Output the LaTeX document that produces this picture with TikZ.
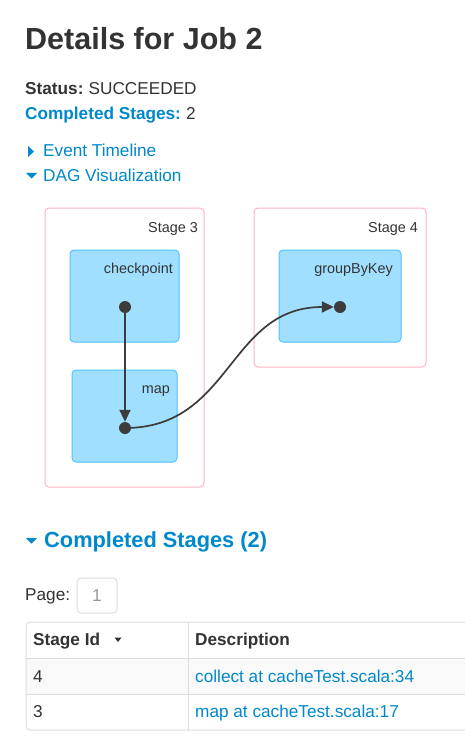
\documentclass[tikz,border=0pt]{standalone}
\usepackage{fontspec}
\setmainfont{Liberation Sans}
\usetikzlibrary{arrows.meta, positioning}
\definecolor{textgray}{HTML}{333333}
\definecolor{linkblue}{HTML}{0088CC}
\definecolor{stagepink}{HTML}{FFB3C2}
\definecolor{rddfill}{HTML}{A0DFFF}
\definecolor{rddline}{HTML}{4DC4FF}
\definecolor{dotgray}{HTML}{3C3C3C}
\definecolor{cellline}{HTML}{DDDDDD}
\definecolor{stripe}{HTML}{F9F9F9}
\newcommand{\bodyfont}{\fontsize{17.2}{20}\selectfont}
\newcommand{\dagfont}{\fontsize{14.4}{17}\selectfont}

\begin{document}
\begin{tikzpicture}[x=1pt, y=-1pt,
  txt/.style={inner sep=0pt, anchor=base west, text=textgray, font=\bodyfont},
  link/.style={txt, text=linkblue},
  caret/.style={fill=linkblue, draw=none},
  stagebox/.style={rectangle, rounded corners=4pt, draw=stagepink, line width=1pt, fill=white},
  rddbox/.style={rectangle, rounded corners=4pt, draw=rddline, line width=1pt, fill=rddfill},
  daglabel/.style={inner sep=0pt, anchor=base east, text=textgray, font=\dagfont},
  dot/.style={circle, fill=dotgray, inner sep=0pt, minimum size=12pt},
  edge/.style={draw=dotgray, line width=1.7pt, -{Triangle[length=12pt,width=11pt]}}]
\clip (0,0) rectangle (465,746);
\fill[white] (0,0) rectangle (465,746);

% Header
\node[txt, font=\fontsize{30.5}{36}\selectfont\bfseries] (title) at (25,50) {Details for Job 2};
\node[txt, font=\bodyfont\bfseries] (status) at (25,95) {Status:};
\node[txt, right=0pt of status.base east, anchor=base west] (statusval) {\ SUCCEEDED};
\node[link, font=\bodyfont\bfseries] (done) at (25,120) {Completed Stages:};
\node[txt, right=0pt of done.base east, anchor=base west] (doneval) {\ 2};

% Collapsible sections
\fill[caret] (28,146) -- (34,151.5) -- (28,157) -- cycle;
\node[link] (timeline) at (43,157) {Event Timeline};
\fill[caret] (26,173) -- (37,173) -- (31.5,178.5) -- cycle;
\node[link] (dagviz) at (43,182) {DAG Visualization};

% Stages
\node[stagebox, minimum width=159pt, minimum height=279pt] (stage3) at (124.5,347.5) {};
\node[stagebox, minimum width=172pt, minimum height=159pt] (stage4) at (340,287.5) {};
\node[daglabel] (stage3lbl) at (198,232) {Stage 3};
\node[daglabel] (stage4lbl) at (418,232) {Stage 4};

% RDD boxes
\node[rddbox, minimum width=109pt, minimum height=92pt] (checkpoint) at (124.5,296) {};
\node[rddbox, minimum width=105pt, minimum height=92pt] (map) at (124.5,416) {};
\node[rddbox, minimum width=122pt, minimum height=92pt] (groupbykey) at (340,296) {};
\node[daglabel] (checkpointlbl) at (173,273) {checkpoint};
\node[daglabel] (maplbl) at (170,393) {map};
\node[daglabel] (groupbykeylbl) at (393,273) {groupByKey};

% Operation dots
\node[dot] (cpdot) at (125,307) {};
\node[dot] (mapdot) at (125,428) {};
\node[dot] (gbkdot) at (340,307) {};

% Draw connections
\draw[edge] (cpdot.center) -- (mapdot);
\draw[edge] (mapdot.center) .. controls (232,428) and (228,307) .. (gbkdot);

% Completed stages section
\fill[caret] (26,538) -- (37,538) -- (31.5,543.5) -- cycle;
\node[link, font=\fontsize{21.8}{26}\selectfont\bfseries] (stageshead) at (44,547) {Completed Stages (2)};
\node[txt] (page) at (25,600) {Page:};
\node[rectangle, rounded corners=4pt, draw=cellline, line width=1pt, minimum width=40pt, minimum height=35pt, text=gray!80, font=\bodyfont] (pagebox) at (97,595.5) {1};

% Table
\fill[stripe] (26,658) rectangle (470,694);
\draw[cellline, line width=1pt, rounded corners=4pt] (470,622) -- (26,622) -- (26,730) -- (470,730);
\draw[cellline, line width=1pt] (26,658) -- (470,658);
\draw[cellline, line width=1pt] (26,694) -- (470,694);
\draw[cellline, line width=1pt] (188,622) -- (188,730);
\node[txt, font=\bodyfont\bfseries] (idhead) at (33,645) {Stage Id};
\fill[textgray] (114.5,637.5) -- (121.5,637.5) -- (118,642) -- cycle;
\node[txt, font=\bodyfont\bfseries] (deschead) at (195,645) {Description};
\node[txt] (id4) at (33,682) {4};
\node[link] (desc4) at (195,682) {collect at cacheTest.scala:34};
\node[txt] (id3) at (33,717) {3};
\node[link] (desc3) at (195,717) {map at cacheTest.scala:17};
\end{tikzpicture}
\end{document}
